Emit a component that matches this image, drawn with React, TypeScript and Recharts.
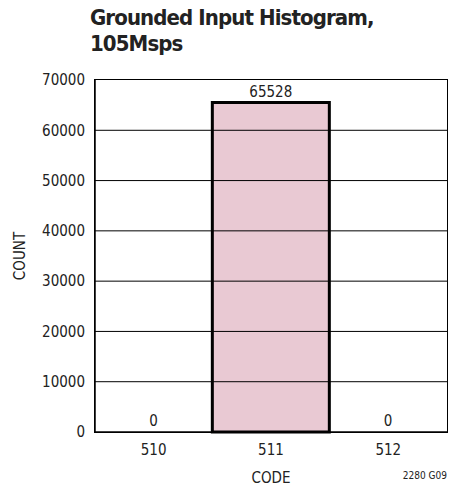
import React from 'react';
import { BarChart, Bar, XAxis, YAxis, ReferenceLine, LabelList, Label, Cell } from 'recharts';

const codes = ['510', '511', '512'];
const counts = [0, 65528, 0];
const yTicks = [0, 10000, 20000, 30000, 40000, 50000, 60000, 70000];

const data = codes.map((code, i) => ({ code, count: counts[i] }));

const FONT = '"DejaVu Sans Condensed", "Liberation Sans Narrow", sans-serif';

// plot area box (matches the chart margins below)
const PLOT = { left: 95, top: 80, width: 352, height: 352 };

const App: React.FC = () => {
  return (
    <div style={{ position: 'absolute', left: 0, top: 0, width: 457, height: 486, background: '#fff', fontFamily: FONT }}>
      <div
        style={{
          position: 'absolute',
          left: 90,
          top: 5,
          fontSize: 22,
          fontWeight: 'bold',
          lineHeight: '26px',
          letterSpacing: -0.9,
          color: '#222',
        }}
      >
        Grounded Input Histogram,
        <br />
        105Msps
      </div>
      <BarChart
        width={457}
        height={486}
        data={data}
        barCategoryGap={0}
        margin={{ top: PLOT.top, right: 457 - PLOT.left - PLOT.width, bottom: 0, left: 0 }}
        style={{ fontFamily: FONT }}
      >
        <XAxis
          dataKey="code"
          height={54}
          tickLine={false}
          tickSize={0}
          tickMargin={12}
          axisLine={{ stroke: '#000', strokeWidth: 1.5 }}
          tick={{ fill: '#222', fontSize: 15 }}
        >
          <Label value="CODE" position="insideBottom" offset={3} fill="#222" fontSize={15} />
        </XAxis>
        <YAxis
          domain={[0, 70000]}
          ticks={yTicks}
          width={PLOT.left}
          tickLine={false}
          tickSize={0}
          tickMargin={10}
          interval={0}
          axisLine={{ stroke: '#000', strokeWidth: 1.5 }}
          tick={{ fill: '#222', fontSize: 15 }}
        >
          <Label
            content={({ viewBox }: any) => {
              const cx = viewBox.x + 20;
              const cy = viewBox.y + viewBox.height / 2;
              return (
                <text x={cx} y={cy} transform={`rotate(-90 ${cx} ${cy})`} textAnchor="middle" dominantBaseline="central" fill="#222" fontSize={15}>
                  COUNT
                </text>
              );
            }}
          />
        </YAxis>
        <Bar dataKey="count" fill="#E9C9D3" stroke="#000" strokeWidth={3} minPointSize={1} isAnimationActive={false}>
          {data.map((d) => (
            <Cell key={d.code} fill={d.count === 0 ? 'none' : '#E9C9D3'} stroke={d.count === 0 ? 'none' : '#000'} />
          ))}
          <LabelList dataKey="count" position="top" offset={5} fill="#222" fontSize={15} />
        </Bar>
        {yTicks.slice(1, -1).map((t) => (
          <ReferenceLine key={t} y={t} stroke="#000" strokeWidth={1} />
        ))}
      </BarChart>
      <div
        style={{
          position: 'absolute',
          left: PLOT.left - 0.75,
          top: PLOT.top - 0.75,
          width: PLOT.width,
          height: PLOT.height,
          border: '1.5px solid #000',
          pointerEvents: 'none',
        }}
      />
      <div style={{ position: 'absolute', right: 10, top: 470, fontSize: 10, color: '#222' }}>2280 G09</div>
    </div>
  );
};

export default App;
